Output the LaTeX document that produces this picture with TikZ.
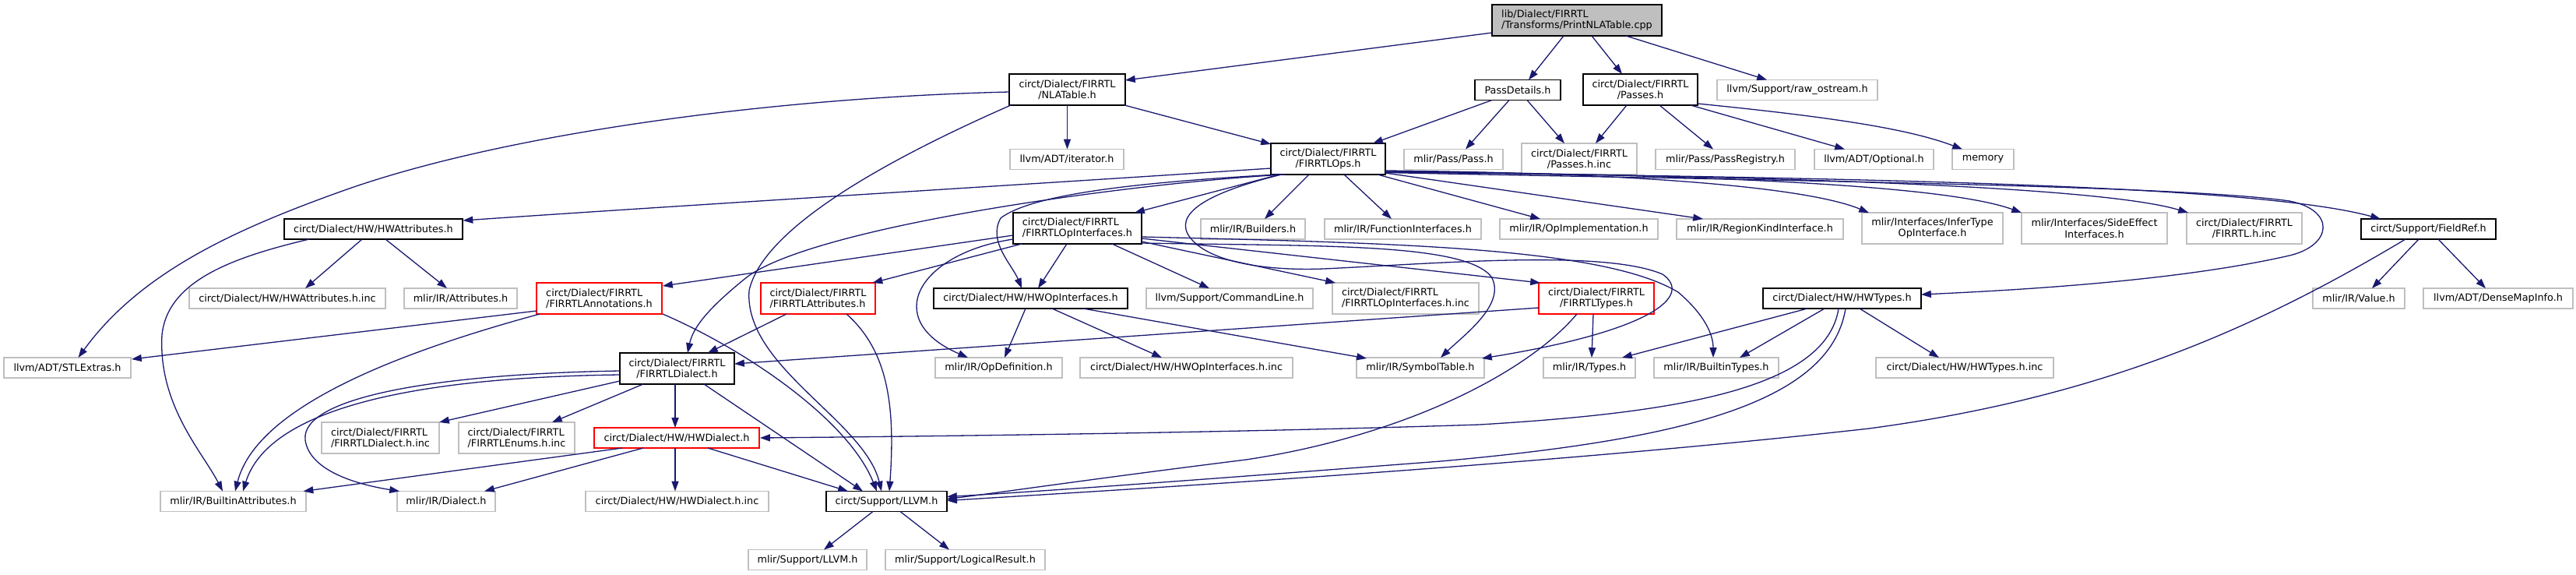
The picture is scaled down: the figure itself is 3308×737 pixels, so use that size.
\documentclass[tikz,border=0pt]{standalone}
\usepackage{fontspec}
\setmainfont{DejaVu Sans}
\usetikzlibrary{arrows.meta}
\definecolor{edgeblue}{HTML}{191970}
\definecolor{grayline}{HTML}{BFBFBF}
\begin{document}
\begin{tikzpicture}[x=1pt,y=-1pt,
  box/.style={draw, rectangle, inner sep=0pt, fill=white, font=\fontsize{12.8}{14.5}\selectfont, text=black, line width=1.3pt},
  doc/.style={box, draw=black},
  ext/.style={box, draw=grayline},
  trunc/.style={box, draw=red},
  rootbox/.style={box, draw=black, fill=grayline},
  one/.style={minimum height=26pt},
  two/.style={minimum height=40pt},
  edge/.style={draw=edgeblue, line width=1.3pt, -{Triangle[length=12.8pt,width=9pt]}}
]
\useasboundingbox (0,0) rectangle (3308,737);

% row 1
\node[rootbox,two,minimum width=218pt,align=left] (root) at (2025,26) {lib/Dialect/FIRRTL\\/Transforms/PrintNLATable.cpp};
% row 2
\node[doc,two,minimum width=149pt,align=center] (nla) at (1370.5,115) {circt/Dialect/FIRRTL\\/NLATable.h};
\node[doc,one,minimum width=110pt] (pd) at (1949,115.5) {PassDetails.h};
\node[doc,two,minimum width=147pt,align=center] (passes) at (2106.5,115) {circt/Dialect/FIRRTL\\/Passes.h};
\node[ext,one,minimum width=206pt] (raw) at (2308,115.5) {llvm/Support/raw\_ostream.h};
% row 3
\node[ext,one,minimum width=146pt] (iter) at (1370,204.5) {llvm/ADT/iterator.h};
\node[doc,two,minimum width=147pt,align=center] (ops) at (1705.5,204) {circt/Dialect/FIRRTL\\/FIRRTLOps.h};
\node[ext,one,minimum width=127pt] (pass) at (1866.5,204.5) {mlir/Pass/Pass.h};
\node[ext,two,minimum width=148pt,align=center] (pinc) at (2028,204) {circt/Dialect/FIRRTL\\/Passes.h.inc};
\node[ext,one,minimum width=179pt] (preg) at (2215.5,204.5) {mlir/Pass/PassRegistry.h};
\node[ext,one,minimum width=153pt] (opt) at (2406.5,204.5) {llvm/ADT/Optional.h};
\node[ext,one,minimum width=79pt] (mem) at (2546.5,204.5) {memory};
% row 4
\node[doc,one,minimum width=229pt] (hwattr) at (479.5,294) {circt/Dialect/HW/HWAttributes.h};
\node[doc,two,minimum width=165pt,align=left] (opif) at (1383.5,293) {circt/Dialect/FIRRTL\\/FIRRTLOpInterfaces.h};
\node[ext,one,minimum width=134pt] (build) at (1609,294) {mlir/IR/Builders.h};
\node[ext,one,minimum width=201pt] (func) at (1801.5,294) {mlir/IR/FunctionInterfaces.h};
\node[ext,one,minimum width=203pt] (opimpl) at (2027.5,294) {mlir/IR/OpImplementation.h};
\node[ext,one,minimum width=214pt] (region) at (2260,294) {mlir/IR/RegionKindInterface.h};
\node[ext,two,minimum width=181pt,align=center] (infer) at (2481.5,293) {mlir/Interfaces/InferType\\OpInterface.h};
\node[ext,two,minimum width=187pt,align=center] (side) at (2689.5,293) {mlir/Interfaces/SideEffect\\Interfaces.h};
\node[ext,two,minimum width=148pt,align=center] (firinc) at (2882,293) {circt/Dialect/FIRRTL\\/FIRRTL.h.inc};
\node[doc,one,minimum width=173pt] (fref) at (3118.5,294) {circt/Support/FieldRef.h};
% row 5
\node[ext,one,minimum width=252pt] (hwattrinc) at (369,383) {circt/Dialect/HW/HWAttributes.h.inc};
\node[ext,one,minimum width=145pt] (attr) at (591.5,383) {mlir/IR/Attributes.h};
\node[trunc,two,minimum width=161pt,align=left] (anno) at (769.5,383) {circt/Dialect/FIRRTL\\/FIRRTLAnnotations.h};
\node[trunc,two,minimum width=147pt,align=left] (fattr) at (1050.5,383) {circt/Dialect/FIRRTL\\/FIRRTLAttributes.h};
\node[doc,one,minimum width=249pt] (hwopif) at (1323.5,383) {circt/Dialect/HW/HWOpInterfaces.h};
\node[ext,one,minimum width=214pt] (cmd) at (1579,383) {llvm/Support/CommandLine.h};
\node[ext,two,minimum width=188pt,align=left] (opifinc) at (1805,383) {circt/Dialect/FIRRTL\\/FIRRTLOpInterfaces.h.inc};
\node[trunc,two,minimum width=148pt,align=center] (ftypes) at (2050,383) {circt/Dialect/FIRRTL\\/FIRRTLTypes.h};
\node[doc,one,minimum width=203pt] (hwtypes) at (2365.5,383) {circt/Dialect/HW/HWTypes.h};
\node[ext,one,minimum width=118pt] (value) at (3029,383) {mlir/IR/Value.h};
\node[ext,one,minimum width=192pt] (dmi) at (3208,383) {llvm/ADT/DenseMapInfo.h};
% row 6
\node[ext,one,minimum width=163pt] (stl) at (86.5,472) {llvm/ADT/STLExtras.h};
\node[doc,two,minimum width=147pt,align=center] (fdial) at (869.5,473) {circt/Dialect/FIRRTL\\/FIRRTLDialect.h};
\node[ext,one,minimum width=163pt] (opdef) at (1282.5,472) {mlir/IR/OpDefinition.h};
\node[ext,one,minimum width=273pt] (hwopifinc) at (1523.5,472) {circt/Dialect/HW/HWOpInterfaces.h.inc};
\node[ext,one,minimum width=164pt] (symtab) at (1824,472) {mlir/IR/SymbolTable.h};
\node[ext,one,minimum width=118pt] (types) at (2041,472) {mlir/IR/Types.h};
\node[ext,one,minimum width=160pt] (btypes) at (2204,472) {mlir/IR/BuiltinTypes.h};
\node[ext,one,minimum width=228pt] (hwtypesinc) at (2523,472) {circt/Dialect/HW/HWTypes.h.inc};
% row 7
\node[ext,two,minimum width=151pt,align=left] (fdialinc) at (488.5,562) {circt/Dialect/FIRRTL\\/FIRRTLDialect.h.inc};
\node[ext,two,minimum width=149pt,align=left] (fenums) at (663.5,562) {circt/Dialect/FIRRTL\\/FIRRTLEnums.h.inc};
\node[trunc,one,minimum width=212pt] (hwdial) at (869,562) {circt/Dialect/HW/HWDialect.h};
% row 8
\node[ext,one,minimum width=187pt] (battr) at (299.5,643.5) {mlir/IR/BuiltinAttributes.h};
\node[ext,one,minimum width=126pt] (dialect) at (573,643.5) {mlir/IR/Dialect.h};
\node[ext,one,minimum width=235pt] (hwdialinc) at (869.5,643.5) {circt/Dialect/HW/HWDialect.h.inc};
\node[doc,one,minimum width=155pt] (llvm) at (1138.5,643.5) {circt/Support/LLVM.h};
% row 9
\node[ext,one,minimum width=152pt] (mllvm) at (1037,718.5) {mlir/Support/LLVM.h};
\node[ext,one,minimum width=205pt] (logres) at (1239.5,718.5) {mlir/Support/LogicalResult.h};

% ---- edges ----
% root
\draw[edge] ([shift={(-109,16)}]root.center) -- ([shift={(74.5,-12)}]nla.center);
\draw[edge] ([shift={(-17,20)}]root.center) -- ([shift={(14,-13)}]pd.center);
\draw[edge] ([shift={(19,20)}]root.center) -- ([shift={(-23.5,-20)}]passes.center);
\draw[edge] ([shift={(63,20)}]root.center) -- ([shift={(-39,-13)}]raw.center);
% nla
\draw[edge] ([shift={(0,20)}]nla.center) -- ([shift={(0.5,-13)}]iter.center);
\draw[edge] ([shift={(73.5,20)}]nla.center) -- ([shift={(-73.5,-19)}]ops.center);
\draw[edge] ([shift={(-74.5,3)}]nla.center) .. controls (1000,125) and (650,170) .. (440,245) .. controls (300,295) and (180,350) .. ([shift={(14,-13)}]stl.center);
\draw[edge] ([shift={(-72.5,20)}]nla.center) .. controls (1150,200) and (980,290) .. (962,373) .. controls (955,470) and (1110,540) .. ([shift={(-6.5,-13)}]llvm.center);
% pd
\draw[edge] ([shift={(-33,13)}]pd.center) -- ([shift={(57.5,-20)}]ops.center);
\draw[edge] ([shift={(-11,13)}]pd.center) -- ([shift={(15.5,-13)}]pass.center);
\draw[edge] ([shift={(12,13)}]pd.center) -- ([shift={(-19,-20)}]pinc.center);
% passes
\draw[edge] ([shift={(-17.5,20)}]passes.center) -- ([shift={(21,-20)}]pinc.center);
\draw[edge] ([shift={(24.5,20)}]passes.center) -- ([shift={(-15.5,-13)}]preg.center);
\draw[edge] ([shift={(64.5,20)}]passes.center) -- ([shift={(-37.5,-13)}]opt.center);
\draw[edge] ([shift={(73.5,18)}]passes.center) .. controls (2350,150) and (2450,165) .. ([shift={(-26.5,-13)}]mem.center);
% ops
\draw[edge] ([shift={(-73.5,12)}]ops.center) .. controls (1300,238) and (900,262) .. ([shift={(115,-11)}]hwattr.center);
\draw[edge] ([shift={(-62.5,20)}]ops.center) -- ([shift={(73.5,-20)}]opif.center);
\draw[edge] ([shift={(-24.5,20)}]ops.center) -- ([shift={(15,-13)}]build.center);
\draw[edge] ([shift={(20.5,20)}]ops.center) -- ([shift={(-14.5,-13)}]func.center);
\draw[edge] ([shift={(63.5,20)}]ops.center) -- ([shift={(-49.5,-13)}]opimpl.center);
\draw[edge] ([shift={(73.5,18)}]ops.center) -- ([shift={(-73,-13)}]region.center);
\draw[edge] ([shift={(73.5,15)}]ops.center) .. controls (2100,222) and (2320,240) .. ([shift={(-81.5,-20)}]infer.center);
\draw[edge] ([shift={(73.5,16)}]ops.center) .. controls (2200,224) and (2500,238) .. ([shift={(-93.5,-20)}]side.center);
\draw[edge] ([shift={(73.5,16.5)}]ops.center) .. controls (2300,226) and (2700,240) .. ([shift={(-72,-20)}]firinc.center);
\draw[edge] ([shift={(73.5,17)}]ops.center) .. controls (2400,228) and (2900,238) .. ([shift={(-61.5,-13)}]fref.center);
\draw[edge] ([shift={(73.5,17.5)}]ops.center) .. controls (2300,232) and (2800,238) .. (2940,258) .. controls (3000,270) and (2995,315) .. (2940,328) .. controls (2800,360) and (2600,372) .. ([shift={(101.5,-5)}]hwtypes.center);
\draw[edge] ([shift={(-55.5,20)}]ops.center) .. controls (1450,235) and (1050,290) .. (960,355) .. controls (910,395) and (890,420) .. ([shift={(13.5,-20)}]fdial.center);
\draw[edge] ([shift={(-65.5,20)}]ops.center) .. controls (1500,232) and (1330,245) .. (1285,280) .. controls (1268,310) and (1300,340) .. ([shift={(-11.5,-13)}]hwopif.center);
\draw[edge] ([shift={(-60,20)}]ops.center) .. controls (1560,245) and (1510,270) .. (1525,300) .. controls (1545,335) and (1620,348) .. (1700,345) .. controls (1850,338) and (2060,320) .. (2135,352) .. controls (2175,380) and (2120,425) .. ([shift={(79,-12)}]symtab.center);
% opif
\draw[edge] ([shift={(-82.5,9)}]opif.center) -- ([shift={(81.5,-16)}]anno.center);
\draw[edge] ([shift={(-71.5,20)}]opif.center) -- ([shift={(70,-20)}]fattr.center);
\draw[edge] ([shift={(-82.5,14)}]opif.center) .. controls (1180,325) and (1130,410) .. ([shift={(-39.5,-13)}]opdef.center);
\draw[edge] ([shift={(-13.5,20)}]opif.center) -- ([shift={(9.5,-13)}]hwopif.center);
\draw[edge] ([shift={(44.5,20)}]opif.center) -- ([shift={(-26,-13)}]cmd.center);
\draw[edge] ([shift={(82.5,17)}]opif.center) -- ([shift={(-90,-20)}]opifinc.center);
\draw[edge] ([shift={(82.5,13)}]opif.center) -- ([shift={(-72,-20)}]ftypes.center);
\draw[edge] ([shift={(82.5,19)}]opif.center) .. controls (1700,316) and (1880,312) .. (1915,355) .. controls (1935,390) and (1880,430) .. ([shift={(26,-13)}]symtab.center);
\draw[edge] ([shift={(82.5,11)}]opif.center) .. controls (1800,312) and (2060,318) .. (2155,375) .. controls (2190,405) and (2200,430) .. ([shift={(-4,-13)}]btypes.center);
% hwattr
\draw[edge] ([shift={(-14.5,13)}]hwattr.center) -- ([shift={(23,-13)}]hwattrinc.center);
\draw[edge] ([shift={(15.5,13)}]hwattr.center) -- ([shift={(-17.5,-13)}]attr.center);
\draw[edge] ([shift={(-82.5,13)}]hwattr.center) .. controls (300,330) and (215,360) .. (208,430) .. controls (203,520) and (260,580) .. ([shift={(-13.5,-13)}]battr.center);
% anno
\draw[edge] ([shift={(-80.5,16)}]anno.center) -- ([shift={(82.5,-11)}]stl.center);
\draw[edge] ([shift={(-76.5,20)}]anno.center) .. controls (520,450) and (330,520) .. ([shift={(2.5,-13)}]battr.center);
\draw[edge] ([shift={(81.5,20)}]anno.center) .. controls (960,450) and (1090,540) .. ([shift={(-12.5,-13)}]llvm.center);
% fattr
\draw[edge] ([shift={(-40.5,20)}]fattr.center) -- ([shift={(39.5,-20)}]fdial.center);
\draw[edge] ([shift={(36.5,20)}]fattr.center) .. controls (1140,450) and (1150,520) .. ([shift={(3.5,-13)}]llvm.center);
% hwopif
\draw[edge] ([shift={(-6.5,13)}]hwopif.center) -- ([shift={(7.5,-13)}]opdef.center);
\draw[edge] ([shift={(27.5,13)}]hwopif.center) -- ([shift={(-31.5,-13)}]hwopifinc.center);
\draw[edge] ([shift={(67.5,13)}]hwopif.center) -- ([shift={(-69,-12)}]symtab.center);
% ftypes
\draw[edge] ([shift={(-74,12)}]ftypes.center) -- ([shift={(73.5,-6)}]fdial.center);
\draw[edge] ([shift={(-4,20)}]ftypes.center) -- ([shift={(3,-13)}]types.center);
\draw[edge] ([shift={(-25,20)}]ftypes.center) .. controls (1960,480) and (1800,560) .. (1600,590) .. controls (1400,615) and (1300,630) .. ([shift={(77.5,-3)}]llvm.center);
% hwtypes
\draw[edge] ([shift={(-44.5,13)}]hwtypes.center) -- ([shift={(42,-13)}]types.center);
\draw[edge] ([shift={(-22.5,13)}]hwtypes.center) -- ([shift={(30,-13)}]btypes.center);
\draw[edge] ([shift={(22.5,13)}]hwtypes.center) -- ([shift={(-33,-13)}]hwtypesinc.center);
\draw[edge] ([shift={(-4.5,13)}]hwtypes.center) .. controls (2345,500) and (2150,530) .. (1900,545) .. controls (1600,555) and (1200,560) .. ([shift={(107,0)}]hwdial.center);
\draw[edge] ([shift={(4.5,13)}]hwtypes.center) .. controls (2350,520) and (2150,565) .. (1850,592) .. controls (1550,615) and (1350,630) .. ([shift={(77.5,-6)}]llvm.center);
% fref
\draw[edge] ([shift={(-12.5,13)}]fref.center) -- ([shift={(17,-13)}]value.center);
\draw[edge] ([shift={(12.5,13)}]fref.center) -- ([shift={(-16,-13)}]dmi.center);
\draw[edge] ([shift={(-29.5,13)}]fref.center) .. controls (2900,420) and (2700,510) .. (2400,550) .. controls (2000,595) and (1500,625) .. ([shift={(77.5,-1)}]llvm.center);
% fdial
\draw[edge] ([shift={(-73.5,16)}]fdial.center) -- ([shift={(75.5,-20)}]fdialinc.center);
\draw[edge] ([shift={(-43.5,20)}]fdial.center) -- ([shift={(45.5,-20)}]fenums.center);
\draw[edge] ([shift={(-2.5,20)}]fdial.center) -- ([shift={(-2,-13)}]hwdial.center);
\draw[edge] ([shift={(34.5,20)}]fdial.center) -- ([shift={(-30.5,-13)}]llvm.center);
\draw[edge] ([shift={(-73.5,8)}]fdial.center) .. controls (480,485) and (340,540) .. ([shift={(12.5,-13)}]battr.center);
\draw[edge] ([shift={(-73.5,3)}]fdial.center) .. controls (560,480) and (385,510) .. (392,565) .. controls (398,605) and (460,622) .. ([shift={(-60,-13)}]dialect.center);
% hwdial
\draw[edge] ([shift={(-70,13)}]hwdial.center) -- ([shift={(90,-13)}]battr.center);
\draw[edge] ([shift={(-43,13)}]hwdial.center) -- ([shift={(49,-13)}]dialect.center);
\draw[edge] ([shift={(-2,13)}]hwdial.center) -- ([shift={(-2.5,-13)}]hwdialinc.center);
\draw[edge] ([shift={(40,13)}]hwdial.center) -- ([shift={(-49.5,-13)}]llvm.center);
% llvm
\draw[edge] ([shift={(-17.5,13)}]llvm.center) -- ([shift={(21,-13)}]mllvm.center);
\draw[edge] ([shift={(17.5,13)}]llvm.center) -- ([shift={(-20.5,-13)}]logres.center);
\end{tikzpicture}
\end{document}
